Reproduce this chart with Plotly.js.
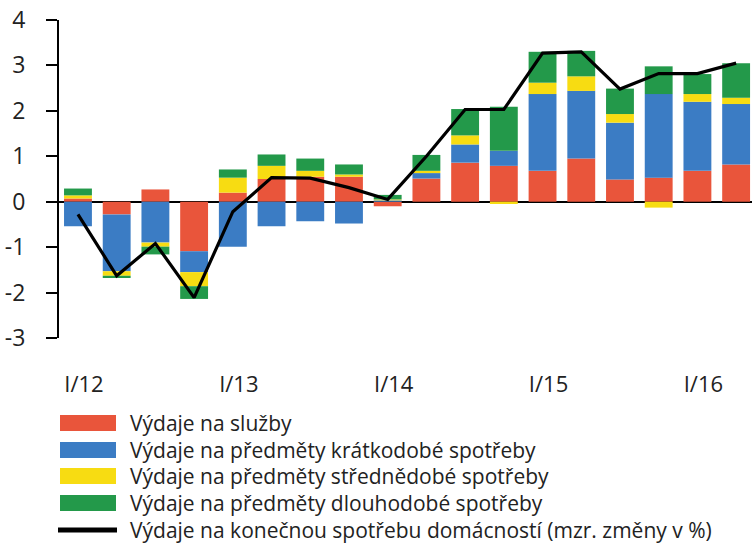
<!DOCTYPE html>
<html>
<head>
<meta charset="utf-8">
<script src="https://cdn.plot.ly/plotly-3.0.1.min.js"></script>
<style>html,body{margin:0;padding:0;background:#fff}#chart{width:752px;height:544px}</style>
</head>
<body>
<div id="chart"></div>
<script>
const quarters = ['I/12','II/12','III/12','IV/12','I/13','II/13','III/13','IV/13','I/14','II/14','III/14','IV/14','I/15','II/15','III/15','IV/15','I/16','II/16'];
const tickLabels = ['I/12','I/13','I/14','I/15','I/16'];
const yTickVals = [-3,-2,-1,0,1,2,3,4];
const yTickText = ['-3','-2','-1','0','1','2','3','4'];
const seriesNames = [
  'Výdaje na služby',
  'Výdaje na předměty krátkodobé spotřeby',
  'Výdaje na předměty střednědobé spotřeby',
  'Výdaje na předměty dlouhodobé spotřeby'
];
const lineName = 'Výdaje na konečnou spotřebu domácností (mzr. změny v %)';
const services  = [0.07,-0.28,0.27,-1.09,0.20,0.50,0.55,0.55,-0.10,0.51,0.86,0.79,0.68,0.95,0.49,0.53,0.68,0.82];
const shortTerm = [-0.54,-1.25,-0.90,-0.46,-0.99,-0.54,-0.43,-0.48,0.03,0.12,0.40,0.33,1.69,1.49,1.25,1.84,1.52,1.33];
const mediumTerm= [0.07,-0.10,-0.09,-0.31,0.33,0.29,0.13,0.05,0.02,0.05,0.20,-0.05,0.25,0.32,0.19,-0.13,0.17,0.14];
const longTerm  = [0.15,-0.05,-0.17,-0.28,0.18,0.25,0.27,0.22,0.10,0.35,0.58,0.97,0.68,0.56,0.56,0.61,0.44,0.76];
const total     = [-0.28,-1.63,-0.92,-2.11,-0.22,0.53,0.52,0.31,0.05,1.00,2.03,2.03,3.27,3.30,2.48,2.82,2.82,3.05];
const colors = ['#E9553B','#3B7CC4','#F7DC12','#23994A'];

const FONT = '"Open Sans", "DejaVu Sans", sans-serif';
const seriesValues = [services, shortTerm, mediumTerm, longTerm];
const traces = seriesValues.map((v,i)=>({
  type:'bar', x:quarters, y:v, name:seriesNames[i],
  marker:{color:colors[i], line:{width:0}}, showlegend:false, hoverinfo:'y+name'
}));
traces.push({type:'scatter', mode:'lines', x:quarters, y:total, name:lineName,
  line:{color:'#000', width:3.2}, showlegend:false});

// custom legend (wide swatches) in paper coords
const L=59, R=752, T=20, B=338;
const px = v => (v-L)/(R-L);
const py = v => (B-v)/(B-T);
const rowY = [423, 450, 476, 503, 530];
const shapes = [];
const annotations = [];
seriesNames.forEach((n,i)=>{
  shapes.push({type:'rect', xref:'paper', yref:'paper', x0:px(60), x1:px(116), y0:py(rowY[i]-8), y1:py(rowY[i]+8),
    fillcolor:colors[i], line:{width:0}});
});
shapes.push({type:'line', xref:'paper', yref:'paper', x0:px(58), x1:px(117), y0:py(rowY[4]), y1:py(rowY[4]),
  line:{color:'#000', width:5}});
seriesNames.concat([lineName]).forEach((n,i)=>{
  annotations.push({xref:'paper', yref:'paper', x:px(128), y:py(rowY[i]), xanchor:'left', yanchor:'middle',
    text:n, showarrow:false, font:{family:FONT, size:21, color:'#222'}});
});

const layout = {
  width:752, height:544,
  margin:{l:L, r:752-R, t:T, b:544-B},
  paper_bgcolor:'#fff', plot_bgcolor:'#fff',
  barmode:'relative', bargap:0.28,
  showlegend:false,
  font:{family:FONT, color:'#222'},
  xaxis:{type:'category', range:[-0.49, 17.41], showgrid:false, zeroline:false, showline:false,
    ticks:'', tickmode:'array', tickvals:tickLabels, ticktext:tickLabels,
    tickfont:{family:FONT, size:22, color:'#222'}, ticklabelstandoff:31, ticklabelshift:6, fixedrange:true},
  yaxis:{range:[-3,4], tickmode:'array', tickvals:yTickVals, ticktext:yTickText, showgrid:false,
    zeroline:true, zerolinecolor:'#000', zerolinewidth:2,
    showline:true, linecolor:'#000', linewidth:2, ticks:'outside', ticklen:11, tickwidth:2, tickcolor:'#000',
    tickfont:{family:FONT, size:23, color:'#222'}, ticklabelstandoff:16, layer:'above traces', fixedrange:true},
  shapes:shapes, annotations:annotations
};
Plotly.newPlot('chart', traces, layout, {displayModeBar:false, staticPlot:true});
</script>
</body>
</html>
